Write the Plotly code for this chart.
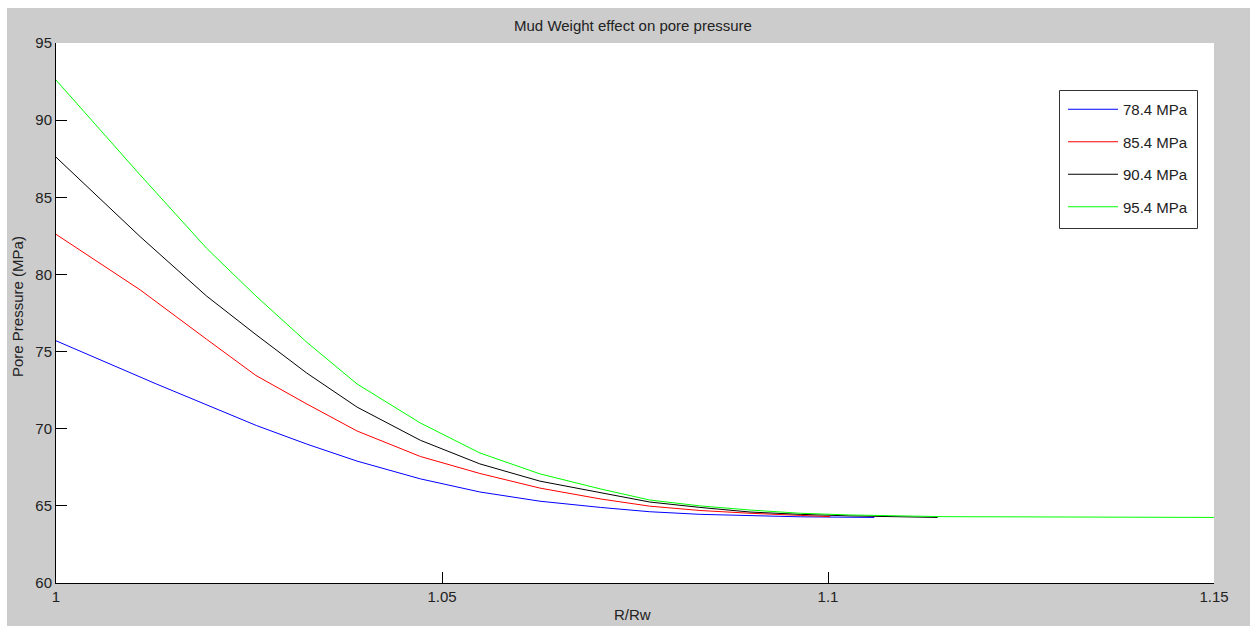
import plotly.graph_objects as go

# ---- data ----
series_names = ["78.4 MPa", "85.4 MPa", "90.4 MPa", "95.4 MPa"]
series_colors = ["#0000ff", "#ff0000", "#000000", "#00ff00"]

x_784 = [1.0000, 1.0130, 1.0260, 1.0325, 1.0390, 1.0472, 1.0549, 1.0627, 1.0705,
         1.0769, 1.0834, 1.0899, 1.0964, 1.1060]
y_784 = [75.70, 72.90, 70.20, 69.00, 67.90, 66.75, 65.90, 65.30, 64.90,
         64.62, 64.45, 64.35, 64.29, 64.25]

x_854 = [1.0000, 1.0109, 1.0195, 1.0259, 1.0325, 1.0390, 1.0472, 1.0549, 1.0627,
         1.0705, 1.0769, 1.0834, 1.0899, 1.0964, 1.1003]
y_854 = [82.60, 79.00, 75.80, 73.45, 71.60, 69.85, 68.20, 67.10, 66.15,
         65.45, 64.98, 64.70, 64.52, 64.36, 64.30]

x_904 = [1.0000, 1.0109, 1.0195, 1.0259, 1.0325, 1.0390, 1.0472, 1.0549, 1.0627,
         1.0705, 1.0769, 1.0834, 1.0899, 1.0964, 1.1028, 1.1142]
y_904 = [87.60, 82.45, 78.60, 76.10, 73.60, 71.40, 69.25, 67.72, 66.60,
         65.84, 65.25, 64.90, 64.60, 64.45, 64.35, 64.25]

x_954 = [1.0000, 1.0109, 1.0195, 1.0259, 1.0325, 1.0390, 1.0472, 1.0549, 1.0627,
         1.0705, 1.0769, 1.0834, 1.0899, 1.0964, 1.1028, 1.1150, 1.1500]
y_954 = [92.60, 86.45, 81.70, 78.60, 75.60, 72.90, 70.37, 68.43, 67.07,
         66.10, 65.38, 65.00, 64.73, 64.52, 64.41, 64.30, 64.25]

x_ticks = [1, 1.05, 1.1, 1.15]
x_tick_labels = ["1", "1.05", "1.1", "1.15"]
y_ticks = [60, 65, 70, 75, 80, 85, 90, 95]
y_tick_labels = ["60", "65", "70", "75", "80", "85", "90", "95"]

title_text = "Mud Weight effect on pore pressure"
x_title = "R/Rw"
y_title = "Pore Pressure (MPa)"

xs = [x_784, x_854, x_904, x_954]
ys = [y_784, y_854, y_904, y_954]

FONT = "Liberation Sans, Arial, sans-serif"
TXT = "#222222"

fig = go.Figure()
for i, (nm, col, xv, yv) in enumerate(zip(series_names, series_colors, xs, ys)):
    fig.add_trace(go.Scatter(x=xv, y=yv, mode="lines", name=nm,
                             legendgroup=f"g{i}",
                             line=dict(color=col, width=1)))

W, H = 1250, 626
L, R, T, B = 56, 36, 43, 43
pw, ph = W - L - R, H - T - B


def px_x(p):
    return (p - L) / pw


def px_y(p):
    return (H - B - p) / ph


fig.update_layout(
    width=W, height=H,
    margin=dict(l=L, r=R, t=T, b=B, pad=0),
    paper_bgcolor="#cccccc",
    plot_bgcolor="#ffffff",
    font=dict(family=FONT, size=15, color=TXT),
    title=dict(text=title_text, x=px_x(633), xref="paper", xanchor="center",
               y=1 - 26 / H, yref="container", yanchor="middle",
               font=dict(family=FONT, size=15, color=TXT)),
    showlegend=True,
    legend=dict(x=px_x(1063), y=px_y(93), xanchor="left", yanchor="top",
                bgcolor="rgba(0,0,0,0)", borderwidth=0,
                tracegroupgap=10, itemwidth=50,
                font=dict(family=FONT, size=15, color=TXT)),
    xaxis=dict(range=[1, 1.15], tickvals=x_ticks, ticktext=x_tick_labels,
               ticks="inside", ticklen=11, tickwidth=1, tickcolor="#000000",
               showline=True, linecolor="#000000", linewidth=1,
               showgrid=False, zeroline=False, mirror=False,
               tickfont=dict(family=FONT, size=15, color=TXT)),
    yaxis=dict(range=[60, 95], tickvals=y_ticks, ticktext=y_tick_labels,
               ticks="inside", ticklen=11, tickwidth=1, tickcolor="#000000",
               showline=True, linecolor="#000000", linewidth=1,
               showgrid=False, zeroline=False, mirror=False,
               tickfont=dict(family=FONT, size=15, color=TXT)),
    shapes=[
        # white screenshot border strips (left and top)
        dict(type="rect", xref="paper", yref="paper", x0=px_x(-5), x1=px_x(7),
             y0=px_y(H + 5), y1=px_y(-5), fillcolor="#ffffff", line=dict(width=0),
             layer="above"),
        dict(type="rect", xref="paper", yref="paper", x0=px_x(-5), x1=px_x(W + 5),
             y0=px_y(8), y1=px_y(-5), fillcolor="#ffffff", line=dict(width=0),
             layer="above"),
        # legend box
        dict(type="rect", xref="paper", yref="paper", x0=px_x(1059.5), x1=px_x(1197.5),
             y0=px_y(228.5), y1=px_y(90.5), fillcolor="#ffffff",
             line=dict(color="#333333", width=1), layer="above"),
    ],
    annotations=[
        dict(text=y_title, xref="paper", yref="paper", x=px_x(17), y=px_y(307),
             textangle=-90, showarrow=False, xanchor="center", yanchor="middle",
             font=dict(family=FONT, size=15, color=TXT)),
        dict(text=x_title, xref="paper", yref="paper", x=px_x(632), y=px_y(614),
             showarrow=False, xanchor="center", yanchor="middle",
             font=dict(family=FONT, size=15, color=TXT)),
    ],
)

fig.write_html("out.html")
